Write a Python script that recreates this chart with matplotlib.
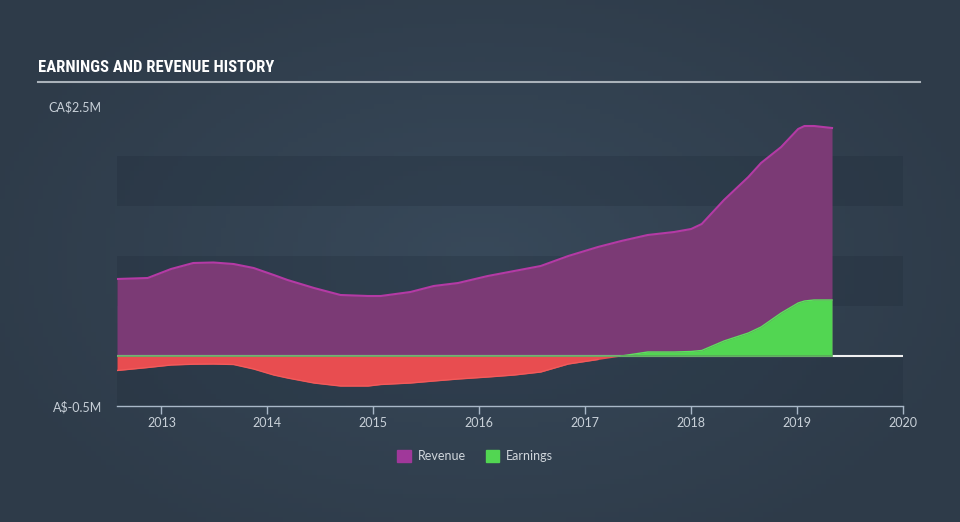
import numpy as np
import matplotlib.pyplot as plt
from matplotlib.patches import Patch
from matplotlib.lines import Line2D
from matplotlib import font_manager

# data (decimal years, values in millions)
years = [2012.58, 2012.87, 2013.09, 2013.30, 2013.49, 2013.68, 2013.87, 2014.06,
         2014.19, 2014.44, 2014.69, 2014.95, 2015.07, 2015.35, 2015.57, 2015.80,
         2016.08, 2016.33, 2016.58, 2016.84, 2017.12, 2017.34, 2017.59, 2017.84,
         2018.00, 2018.10, 2018.31, 2018.54, 2018.66, 2018.85, 2019.01, 2019.07,
         2019.16, 2019.33]
revenue = [0.77, 0.78, 0.87, 0.93, 0.935, 0.92, 0.88, 0.81,
           0.76, 0.68, 0.61, 0.60, 0.60, 0.64, 0.70, 0.73,
           0.80, 0.85, 0.90, 1.00, 1.09, 1.15, 1.21, 1.24,
           1.27, 1.32, 1.56, 1.79, 1.93, 2.09, 2.27, 2.30,
           2.30, 2.28]
earnings = [-0.145, -0.115, -0.09, -0.082, -0.08, -0.085, -0.13, -0.19,
            -0.22, -0.27, -0.30, -0.30, -0.285, -0.27, -0.25, -0.23,
            -0.21, -0.19, -0.16, -0.08, -0.035, 0.0, 0.04, 0.04,
            0.045, 0.055, 0.15, 0.23, 0.29, 0.43, 0.53, 0.55,
            0.56, 0.56]
year_ticks = [2013, 2014, 2015, 2016, 2017, 2018, 2019, 2020]
y_ticks = [-0.5, 2.5]
y_labels = ['A$-0.5M', 'CA$2.5M']

x = np.array(years)
rev = np.array(revenue)
earn = np.array(earnings)

fig = plt.figure(figsize=(9.6, 5.22), dpi=100)
fig.patch.set_facecolor('#334150')

# soft radial background gradient
bg = fig.add_axes([0, 0, 1, 1], zorder=-10)
gx, gy = np.meshgrid(np.linspace(-1, 1, 200), np.linspace(-1, 1, 110))
r = np.clip(np.sqrt((gx / 1.1) ** 2 + (gy / 1.3) ** 2), 0, 1)
c0 = np.array([0x38, 0x49, 0x5a]) / 255
c1 = np.array([0x2e, 0x3b, 0x49]) / 255
img = c0[None, None, :] * (1 - r[..., None]) + c1[None, None, :] * r[..., None]
bg.imshow(img, aspect='auto', extent=[0, 1, 0, 1])
bg.axis('off')

ax = fig.add_axes([117 / 960, 1 - 406 / 522, 786 / 960, 300 / 522])
ax.patch.set_alpha(0)
ax.set_xlim(2012.58, 2020.0)
ax.set_ylim(-0.5, 2.5)

for lo, hi in [(-0.5, 0), (0.5, 1.0), (1.5, 2.0)]:
    ax.axhspan(lo, hi, color='#1e2a38', alpha=0.25, lw=0, zorder=0)

ax.fill_between(x, 0, rev, color='#7b3a75', lw=0, zorder=2)
ax.plot(x, rev, color='#b43aa5', lw=1.5, zorder=3)

ax.axhline(0, color='#f0f0f0', lw=1.5, zorder=4)
ax.fill_between(x, 0, earn, where=earn >= 0, interpolate=True, color='#52d652', lw=0, zorder=5)
ax.fill_between(x, 0, earn, where=earn <= 0, interpolate=True, color='#e84d50', lw=0, zorder=5)
ax.plot(x, np.where(earn < 0, earn, np.nan), color='#f25a5a', lw=1, zorder=6)
ax.plot(x, np.where(earn >= 0, earn, np.nan), color='#5ee05e', lw=1, zorder=6)
ax.plot([x[0], x[-1]], [0, 0], color='#5aa65a', lw=1.2, zorder=6)

for s in ['top', 'right', 'left']:
    ax.spines[s].set_visible(False)
ax.spines['bottom'].set_color('#a9b8c8')
ax.spines['bottom'].set_linewidth(1)

ax.set_xticks(year_ticks)
ax.set_xticklabels([str(t) for t in year_ticks])
ax.tick_params(axis='x', colors='#a9b8c8', length=6, width=1, pad=2,
               labelsize=9, labelcolor='#c8d0d8')
ax.set_yticks(y_ticks)
ax.set_yticklabels(y_labels)
ax.tick_params(axis='y', length=0, pad=11, labelsize=9, labelcolor='#c8d0d8')
for lab in ax.get_xticklabels() + ax.get_yticklabels():
    lab.set_family(['Lato', 'DejaVu Sans'])

# narrowest bold face we can find for the title
names = {f.name for f in font_manager.fontManager.ttflist}
title_fam = 'DejaVu Sans'
for cand in ['Liberation Sans Narrow', 'DejaVu Sans Condensed', 'Roboto Condensed',
             'Open Sans Condensed', 'Liberation Sans']:
    if cand in names:
        title_fam = cand
        break
fig.text(38 / 960, 1 - 68 / 522, 'EARNINGS AND REVENUE HISTORY', color='white',
         fontsize=12, fontweight='bold', fontstretch='condensed', va='center', ha='left',
         family=title_fam)
fig.add_artist(Line2D([38 / 960, 920 / 960], [1 - 82 / 522, 1 - 82 / 522],
                      color='#aab2ba', lw=1.5))

handles = [Patch(color='#a0389a', label='Revenue'), Patch(color='#52d652', label='Earnings')]
leg = fig.legend(handles=handles, loc='center', bbox_to_anchor=(475 / 960, 1 - 456 / 522),
                 ncol=2, frameon=False, handlelength=1.1, handleheight=1.1,
                 handletextpad=0.5, columnspacing=1.6, fontsize=9)
for t in leg.get_texts():
    t.set_color('#d0d6dc')
    t.set_family(['Lato', 'DejaVu Sans'])

fig.savefig('out.png', dpi=100, facecolor=fig.get_facecolor())
